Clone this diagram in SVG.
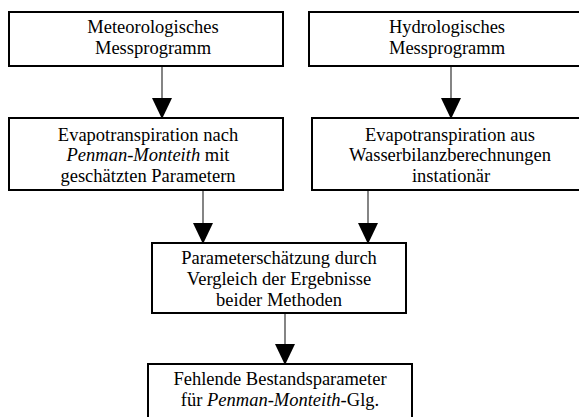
<svg xmlns="http://www.w3.org/2000/svg" width="579" height="417" viewBox="0 0 579 417">
<defs>
<marker id="ah" markerUnits="userSpaceOnUse" markerWidth="20" markerHeight="22" viewBox="0 0 20 22" refX="20" refY="10" orient="auto">
<path d="M0,0 L21,10 L0,20 Z" fill="#000"/>
</marker>
<style>
.box{fill:#fff;stroke:#000;stroke-width:2}
.t{font-family:"Liberation Serif","Times New Roman",serif;font-size:18.5px;fill:#000;text-anchor:middle}
.c{stroke:#333;stroke-width:1.2;fill:none}
</style>
</defs>
<rect width="579" height="417" fill="#fff"/>
<g id="connectors">
<line class="c" x1="162" y1="66" x2="162" y2="118" marker-end="url(#ah)"/>
<line class="c" x1="451" y1="66" x2="451" y2="118" marker-end="url(#ah)"/>
<line class="c" x1="203" y1="191" x2="203" y2="243" marker-end="url(#ah)"/>
<line class="c" x1="368" y1="191" x2="368" y2="243" marker-end="url(#ah)"/>
<line class="c" x1="285" y1="313" x2="285" y2="364" marker-end="url(#ah)"/>
</g>
<g id="meteo">
<rect class="box" x="9" y="12" width="274" height="54"/>
<text class="t" x="153" y="33">Meteorologisches</text>
<text class="t" x="153" y="54">Messprogramm</text>
</g>
<g id="hydro">
<rect class="box" x="309" y="12" width="285" height="54"/>
<text class="t" x="447" y="33">Hydrologisches</text>
<text class="t" x="447" y="54">Messprogramm</text>
</g>
<g id="penman">
<rect class="box" x="9" y="118" width="274" height="72"/>
<text class="t" x="148" y="141">Evapotranspiration nach</text>
<text class="t" x="148" y="161"><tspan font-style="italic">Penman-Monteith</tspan> mit</text>
<text class="t" x="148" y="182">geschätzten Parametern</text>
</g>
<g id="wasserbilanz">
<rect class="box" x="312" y="118" width="285" height="72"/>
<text class="t" x="450" y="141">Evapotranspiration aus</text>
<text class="t" x="450" y="161">Wasserbilanzberechnungen</text>
<text class="t" x="451" y="182">instationär</text>
</g>
<g id="vergleich">
<rect class="box" x="152" y="243" width="254" height="70"/>
<text class="t" x="279" y="264">Parameterschätzung durch</text>
<text class="t" x="279" y="285">Vergleich der Ergebnisse</text>
<text class="t" x="279" y="306">beider Methoden</text>
</g>
<g id="fehlende">
<rect class="box" x="148" y="364" width="264" height="70"/>
<text class="t" x="280" y="385">Fehlende Bestandsparameter</text>
<text class="t" x="280" y="406">für <tspan font-style="italic">Penman-Monteith</tspan>-Glg.</text>
</g>
</svg>
